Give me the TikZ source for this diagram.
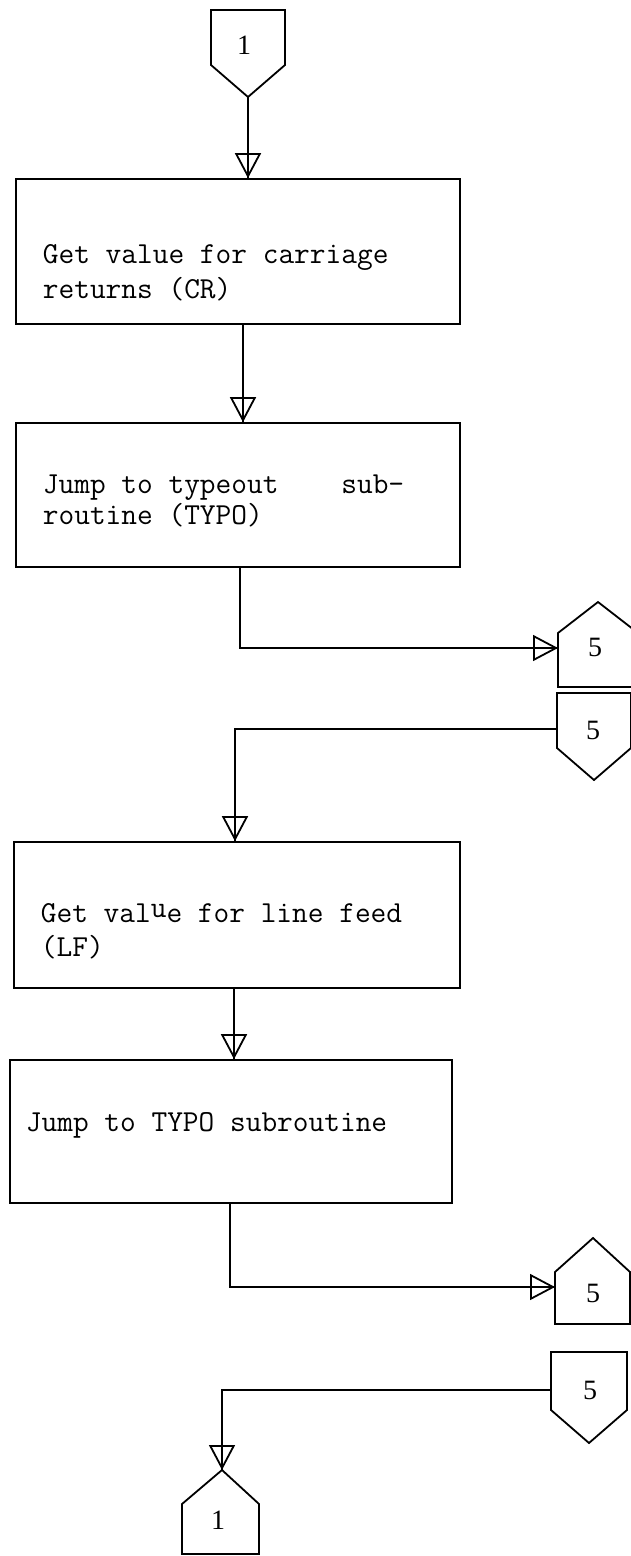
\documentclass[tikz,border=0pt]{standalone}
\usepackage{fontspec}
\newfontfamily\numfont{Liberation Serif}
\usetikzlibrary{arrows.meta}

\begin{document}
\begin{tikzpicture}[x=1pt,y=-1pt,
  line width=1.8pt,
  stepbox/.style={draw, rectangle, inner sep=0pt, line width=1.7pt},
  flow/.style={postaction={draw, -{Triangle[open,length=25pt,width=26pt,line width=1.8pt]}}},
  boxtext/.style={anchor=base west, inner sep=0pt, align=left,
    font=\ttfamily\fontsize{30.5}{34}\selectfont},
  num/.style={inner sep=0pt, font=\numfont\fontsize{28}{28}\selectfont},
  conn/.style={line width=1.8pt, line join=miter}
]
\useasboundingbox (0,0) rectangle (631,1556);
\clip (0,0) rectangle (631,1556);
\fill[white] (0,0) rectangle (631,1556);

% ---- process boxes ----
\node[stepbox, minimum width=444pt, minimum height=145pt] (b1) at (238,251.5) {};
\node[stepbox, minimum width=444pt, minimum height=144pt] (b2) at (238,495) {};
\node[stepbox, minimum width=446pt, minimum height=146pt] (b3) at (237,915) {};
\node[stepbox, minimum width=442pt, minimum height=143pt] (b4) at (231,1131.5) {};

\node[boxtext] (t1a) at (42,263) {Get value for carriage};
\node[boxtext] (t1b) at (42,298) {returns (CR)};
\node[boxtext] (t2a) at (42,493) {Jump to typeout~~~~sub-};
\node[boxtext] (t2b) at (42,524) {routine (TYPO)};
\node[boxtext] (t3a) at (40,922) {Get val\raisebox{5pt}{u}e for line feed};
\node[boxtext] (t3b) at (40,956) {(LF)};
\node[boxtext] (t4) at (25,1131) {Jump to TYPO subroutine};

% ---- off-page connectors ----
% 1 (entry, top)
\draw[conn] (211,10) -- (285,10) -- (285,65) -- (248,97) -- (211,65) -- cycle;
\coordinate (c1out) at (248,97);
\node[num] (n1top) at (244,45) {1};

% 5 (exit after carriage return)
\draw[conn] (558,687) -- (558,633) -- (598,602) -- (638,633) -- (638,687) -- cycle;
\coordinate (c5ain) at (558,648);
\node[num] (n5a) at (595,647) {5};

% 5 (return after carriage return)
\draw[conn] (557,693) -- (631,693) -- (631,748) -- (594,780) -- (557,748) -- cycle;
\coordinate (c5bout) at (557,729);
\node[num] (n5b) at (593,730) {5};

% 5 (exit after line feed)
\draw[conn] (555,1324) -- (555,1272) -- (593,1238) -- (630,1272) -- (630,1324) -- cycle;
\coordinate (c5cin) at (555,1287);
\node[num] (n5c) at (593,1293) {5};

% 5 (return after line feed)
\draw[conn] (551,1352) -- (627,1352) -- (627,1410) -- (589,1443) -- (551,1410) -- cycle;
\coordinate (c5dout) at (551,1390);
\node[num] (n5d) at (590,1390) {5};

% 1 (exit, bottom)
\draw[conn] (182,1554) -- (182,1504) -- (222,1470) -- (259,1504) -- (259,1554) -- cycle;
\coordinate (c1in) at (222,1470);
\node[num] (n1bot) at (218,1520) {1};

% ---- flow lines ----
\coordinate (x1) at (243,0);
\coordinate (x2) at (240,0);
\coordinate (x3) at (235,0);
\coordinate (x4) at (234,0);
\coordinate (x5) at (230,0);

\draw[flow] (c1out) -- (c1out |- b1.north);
\draw[flow] (x1 |- b1.south) -- (x1 |- b2.north);
\draw[flow] (x2 |- b2.south) |- (c5ain);
\draw[flow] (c5bout) -| (x3 |- b3.north);
\draw[flow] (x4 |- b3.south) -- (x4 |- b4.north);
\draw[flow] (x5 |- b4.south) |- (c5cin);
\draw[flow] (c5dout) -| (c1in);
\end{tikzpicture}
\end{document}
